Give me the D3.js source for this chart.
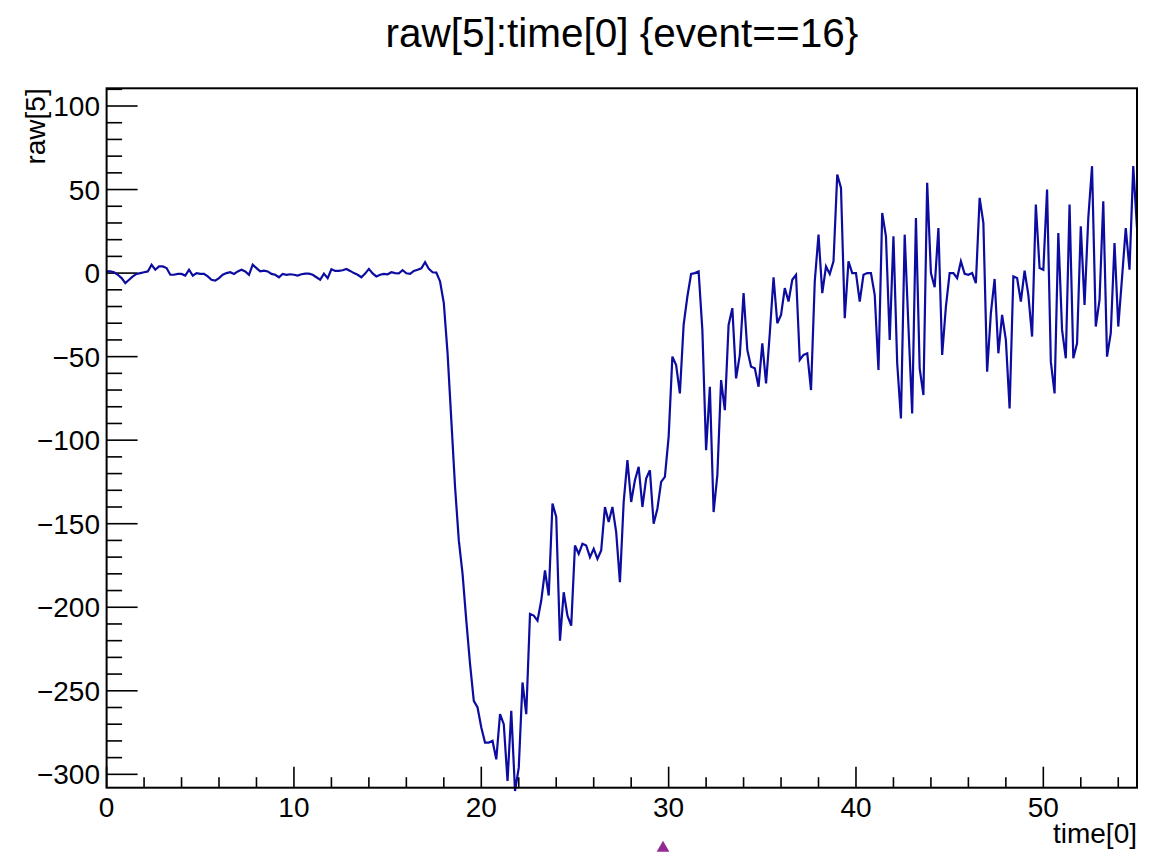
<!DOCTYPE html>
<html>
<head>
<meta charset="utf-8">
<script src="https://cdn.jsdelivr.net/npm/d3@7"></script>
<style>
  body { margin: 0; background: #fff; }
  svg text { font-family: "Liberation Sans", Arial, Helvetica, sans-serif; fill: #000; }
</style>
</head>
<body>
<svg id="chart" width="1165" height="852"></svg>
<script>
// raw[5] samples for event 16, one every 0.2 in time[0], starting at 0
var timeStart = 0;
var timeStep = 0.2;
var rawValues = [
  1, 1, 0.5, -1, -3, -6, -4, -2, -0.5, 0,
  0.5, 1, 5, 2, 4, 4, 3, -1, -1, -0.5,
  -0.5, -1.5, 2, -1.5, 0, -0.5, -0.5, -2, -4, -4.5,
  -3, -1, 0, 0.5, -0.5, 1, 2, 1, -1, 5,
  3, 1, 1.5, 1, -0.5, -1, -2.5, -0.5, -1, -0.7,
  -1, -1.5, -0.7, -0.3, -0.3, -1, -2.5, -4, -0.3, -3,
  2.3, 1.3, 1.3, 1.7, 2.5, 1.3, 0, -1, -2.5, -0.3,
  2.5, -0.2, -2, -1, -0.5, -0.7, 0.5, 0, -0.1, 1.7,
  -0.1, -0.5, 1.3, 2, 2.9, 6.5, 2.5, 0.5, 0.3, -5,
  -18, -48, -88, -128, -160, -180, -208, -234, -256, -260,
  -272, -281, -281, -280, -291, -264, -270, -304, -262, -310,
  -296, -245, -264, -204, -205, -208, -196, -178, -193, -138,
  -146, -220, -191, -205, -211, -163, -168, -162, -163, -170,
  -165, -171, -166, -140, -149, -140, -155, -185, -137, -112,
  -137, -124, -116, -140, -123, -118, -150, -141, -125, -122,
  -98, -50, -55, -72, -31, -14, -0.5, 0, 1, -34,
  -106, -68, -143, -121, -64, -82, -31, -21, -63, -49,
  -12, -46, -56, -57, -68, -42, -66, -36, -2.5, -30,
  -25, -9, -17, -4, -1, -52, -49, -48, -70, -5,
  23, -12, 4, -0.5, 7, 59, 51, -27, 7, 0,
  0, -17, -1, 0, 0, -13, -58, 36, 22, -40,
  22, -54, -87, 23, -32, -84, 33, -57, -73, 54,
  0, -8.5, 27, -49, -20, 0, 0, -3, 7, -0.5,
  -1, 0, -6, 45, 30, -59, -24, -3.5, -48, -25,
  -40, -81, -2, -3, -17, 1.5, -13, -38, 41, 3,
  2, 50, -53, -72, 24, -34, -51, 41, -51, -42,
  28, -19, 33, 64, -32, -16, 43, -50, -36, 18,
  -32, -3, 27, 2, 64, 27
];

var xDomain = [0, 55];
var yDomain = [-308, 110.6];
var xMajorTicks = [0, 10, 20, 30, 40, 50];
var yMajorTicks = [-300, -250, -200, -150, -100, -50, 0, 50, 100];
var markerTimes = [29.7];

var titleText = "raw[5]:time[0] {event==16}";
var xTitle = "time[0]";
var yTitle = "raw[5]";

var svg = d3.select("#chart");

// frame box (note: "top" is reserved on window, so keep these in an object)
var frame = { x0: 106.6, x1: 1137, y0: 88.3, y1: 787.7 };

var x = d3.scaleLinear().domain(xDomain).range([frame.x0, frame.x1]);
var y = d3.scaleLinear().domain(yDomain).range([frame.y1, frame.y0]);

var points = rawValues.map(function(v, i) {
  return { t: timeStart + i * timeStep, v: v };
});

// minor ticks
var xMinor = d3.range(xDomain[0], xDomain[1] + 0.001, 2).filter(function(d) { return d % 10 !== 0; });
var yMinor = d3.range(-300, yDomain[1], 10).filter(function(d) { return d % 50 !== 0; });

var ticks = svg.append("g").attr("stroke", "#000").attr("stroke-width", 1.6);

ticks.selectAll(".xmaj").data(xMajorTicks).enter().append("line")
    .attr("x1", function(d) { return x(d); }).attr("x2", function(d) { return x(d); })
    .attr("y1", frame.y1).attr("y2", frame.y1 - 21);
ticks.selectAll(".xmin").data(xMinor).enter().append("line")
    .attr("x1", function(d) { return x(d); }).attr("x2", function(d) { return x(d); })
    .attr("y1", frame.y1).attr("y2", frame.y1 - 10.5);
ticks.selectAll(".ymaj").data(yMajorTicks).enter().append("line")
    .attr("y1", function(d) { return y(d); }).attr("y2", function(d) { return y(d); })
    .attr("x1", frame.x0).attr("x2", frame.x0 + 31);
ticks.selectAll(".ymin").data(yMinor).enter().append("line")
    .attr("y1", function(d) { return y(d); }).attr("y2", function(d) { return y(d); })
    .attr("x1", frame.x0).attr("x2", frame.x0 + 15.5);

// the trace
var line = d3.line()
    .x(function(d) { return x(d.t); })
    .y(function(d) { return y(d.v); });

svg.append("path")
    .datum(points)
    .attr("d", line)
    .attr("fill", "none")
    .attr("stroke", "#0c0ca0")
    .attr("stroke-width", 2.2)
    .attr("stroke-linejoin", "miter");

// frame
svg.append("rect")
    .attr("x", frame.x0).attr("y", frame.y0)
    .attr("width", frame.x1 - frame.x0).attr("height", frame.y1 - frame.y0)
    .attr("fill", "none").attr("stroke", "#000").attr("stroke-width", 2);

// tick labels
function fmt(d) { return d < 0 ? "\u2212" + Math.abs(d) : String(d); }

svg.selectAll(".xl").data(xMajorTicks).enter().append("text")
    .attr("x", function(d) { return x(d); })
    .attr("y", 817)
    .attr("text-anchor", "middle")
    .attr("font-size", 28)
    .text(fmt);

svg.selectAll(".yl").data(yMajorTicks).enter().append("text")
    .attr("x", 100)
    .attr("y", function(d) { return y(d) + 10; })
    .attr("text-anchor", "end")
    .attr("font-size", 28)
    .text(fmt);

// titles
svg.append("text")
    .attr("x", (frame.x0 + frame.x1) / 2).attr("y", 47)
    .attr("text-anchor", "middle")
    .attr("font-size", 40.5)
    .text(titleText);

svg.append("text")
    .attr("x", frame.x1).attr("y", 843)
    .attr("text-anchor", "end")
    .attr("font-size", 28)
    .text(xTitle);

svg.append("text")
    .attr("transform", "translate(45," + frame.y0 + ") rotate(-90)")
    .attr("text-anchor", "end")
    .attr("font-size", 28)
    .text(yTitle);

// marker below the axis
svg.selectAll(".mk").data(markerTimes).enter().append("path")
    .attr("d", d3.symbol().type(d3.symbolTriangle).size(70))
    .attr("transform", function(d) { return "translate(" + x(d) + ",848)"; })
    .attr("fill", "#932a93");
</script>
</body>
</html>
